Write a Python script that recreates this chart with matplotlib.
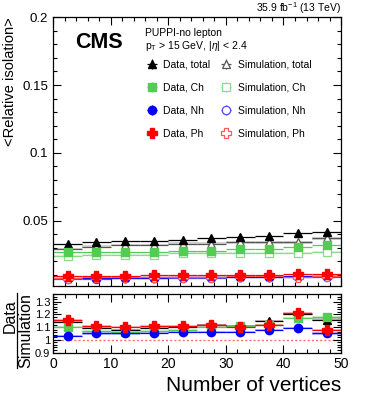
import numpy as np
import matplotlib
matplotlib.use("Agg")
import matplotlib.pyplot as plt
from matplotlib.ticker import MultipleLocator, FormatStrFormatter
from matplotlib.lines import Line2D

plt.rcParams.update({
    "font.family": "Liberation Sans",
    "mathtext.fontset": "custom",
    "mathtext.rm": "Liberation Sans",
    "mathtext.it": "Liberation Sans:italic",
    "mathtext.bf": "Liberation Sans:bold",
})

# bins of number of vertices
bin_lo = [0, 5, 10, 15, 20, 25, 30, 35, 40, 45]
bin_hi = [5, 10, 15, 20, 25, 30, 35, 40, 45, 50]

data_total = [0.033, 0.034, 0.035, 0.035, 0.036, 0.037, 0.038, 0.039, 0.041, 0.042]
sim_total = [0.029, 0.031, 0.032, 0.032, 0.033, 0.033, 0.034, 0.034, 0.034, 0.037]
data_ch = [0.027, 0.027, 0.027, 0.027, 0.028, 0.028, 0.029, 0.029, 0.031, 0.032]
sim_ch = [0.024, 0.025, 0.025, 0.025, 0.026, 0.026, 0.026, 0.026, 0.026, 0.027]
data_nh = [0.0075, 0.0077, 0.0079, 0.0081, 0.0083, 0.0085, 0.0087, 0.0089, 0.0091, 0.0093]
sim_nh = [0.0073, 0.0073, 0.0075, 0.0077, 0.0078, 0.0080, 0.0082, 0.0082, 0.0083, 0.0089]
data_ph = [0.0090, 0.0093, 0.0095, 0.0097, 0.0099, 0.0100, 0.0102, 0.0103, 0.0105, 0.0104]
sim_ph = [0.0078, 0.0084, 0.0086, 0.0087, 0.0089, 0.0089, 0.0093, 0.0092, 0.0087, 0.0096]

ratio_total = [1.14, 1.09, 1.08, 1.09, 1.10, 1.12, 1.11, 1.15, 1.20, 1.16]
ratio_ch = [1.10, 1.07, 1.06, 1.07, 1.08, 1.10, 1.11, 1.12, 1.17, 1.18]
ratio_nh = [1.03, 1.05, 1.05, 1.055, 1.06, 1.065, 1.06, 1.08, 1.09, 1.05]
ratio_ph = [1.155, 1.11, 1.10, 1.11, 1.11, 1.12, 1.10, 1.12, 1.21, 1.08]

lo = np.array(bin_lo, float)
hi = np.array(bin_hi, float)
xc = 0.5 * (lo + hi)
xw = 0.5 * (hi - lo)

# (name, data, sim, ratio, data colour, sim colour, marker, size)
comps = [
    ("total", data_total, sim_total, ratio_total, "black", "#555555", "^", 6),
    ("Ch", data_ch, sim_ch, ratio_ch, "#52cc52", "#86dd86", "s", 6),
    ("Nh", data_nh, sim_nh, ratio_nh, "#0000ff", "#4a4aff", "o", 6),
    ("Ph", data_ph, sim_ph, ratio_ph, "#ff0000", "#ff5a5a", "P", 6.5),
]

fig = plt.figure(figsize=(3.74, 4.09), dpi=100)
ax = fig.add_axes([0.142, 0.301, 0.770, 0.657])
axr = fig.add_axes([0.142, 0.138, 0.770, 0.143])

data_handles, sim_handles = [], []
for name, d, s, r, c, cs, m, ms in comps:
    d = np.array(d)
    s = np.array(s)
    # simulation uncertainty band + line
    for i in range(len(xc)):
        ax.fill_between([lo[i], hi[i]], s[i] * 0.97, s[i] * 1.03,
                        color=cs, alpha=0.25, lw=0)
    hs = ax.errorbar(xc, s, xerr=xw, yerr=s * 0.01, fmt=m, color=cs, mfc="white",
                     mec=cs, ms=ms, mew=0.9, elinewidth=0.9, capsize=0)
    hd = ax.errorbar(xc, d, xerr=xw, yerr=d * 0.01, fmt=m, color=c, mfc=c,
                     mec=c, ms=ms, elinewidth=0.9, capsize=0)
    data_handles.append(hd)
    sim_handles.append(hs)

    rr = np.array(r)
    for i in range(len(xc)):
        axr.fill_between([lo[i], hi[i]], rr[i] - 0.008, rr[i] + 0.008,
                         color=c, alpha=0.25, lw=0)
    axr.errorbar(xc, rr, xerr=xw, yerr=0.01, fmt=m, color=c, mfc=c, mec=c,
                 ms=ms, elinewidth=0.9, capsize=0)

axr.axhline(1.0, color="#ff7070", ls=(0, (1.5, 1.5)), lw=1.0, zorder=0)

ax.set_xlim(0, 50)
ax.set_ylim(0.002, 0.2)
axr.set_xlim(0, 50)
axr.set_ylim(0.9, 1.36)

for a in (ax, axr):
    a.tick_params(which="both", direction="in", top=True, right=True, labelsize=9.5)
    a.tick_params(which="major", length=6, width=0.8)
    a.tick_params(which="minor", length=3, width=0.8)
    a.xaxis.set_major_locator(MultipleLocator(10))
    a.xaxis.set_minor_locator(MultipleLocator(2))
    for sp in a.spines.values():
        sp.set_linewidth(0.9)

ax.tick_params(labelbottom=False)
ax.yaxis.set_minor_locator(MultipleLocator(0.01))
ax.set_yticks([0.05, 0.1, 0.15, 0.2])
ax.yaxis.set_major_formatter(FormatStrFormatter("%g"))

axr.set_yticks([0.9, 1.0, 1.1, 1.2, 1.3])
axr.yaxis.set_major_formatter(FormatStrFormatter("%g"))
axr.yaxis.set_minor_locator(MultipleLocator(0.02))
axr.tick_params(axis="y", labelsize=8, pad=2)
axr.tick_params(axis="x", labelsize=10)

ax.set_ylabel("<Relative isolation>", fontsize=10.5, loc="top", labelpad=4)
axr.set_xlabel("Number of vertices", fontsize=15, loc="right", labelpad=3)

# Data / Simulation fraction label
fig.text(0.028, 0.227, "Data", rotation=90, fontsize=11.5, ha="center", va="center")
fig.text(0.07, 0.193, "Simulation", rotation=90, fontsize=11.5, ha="center", va="center")
fig.add_artist(Line2D([0.045, 0.045], [0.100, 0.284], color="black", lw=0.9,
                      transform=fig.transFigure))

fig.text(0.912, 0.962, r"35.9 fb$^{-1}$ (13 TeV)", ha="right", va="bottom", fontsize=7.5)
ax.text(0.075, 0.905, "CMS", transform=ax.transAxes, fontsize=15.5, fontweight="bold",
        ha="left", va="center")
ax.text(0.32, 0.94, "PUPPI-no lepton", transform=ax.transAxes, fontsize=7.5,
        ha="left", va="center")
ax.text(0.32, 0.893, r"p$_{\mathrm{T}}$ > 15 GeV, |$\eta$| < 2.4", transform=ax.transAxes,
        fontsize=7.5, ha="left", va="center")

labels = ["Data, total", "Data, Ch", "Data, Nh", "Data, Ph",
          "Simulation, total", "Simulation, Ch", "Simulation, Nh", "Simulation, Ph"]
ax.legend(data_handles + sim_handles, labels, ncol=2, frameon=False, fontsize=7.5,
          loc="upper left", bbox_to_anchor=(0.3, 0.857), labelspacing=1.25,
          handlelength=1.6, handletextpad=0.3, columnspacing=0.7, borderaxespad=0)

fig.savefig("out.png", dpi=100)
